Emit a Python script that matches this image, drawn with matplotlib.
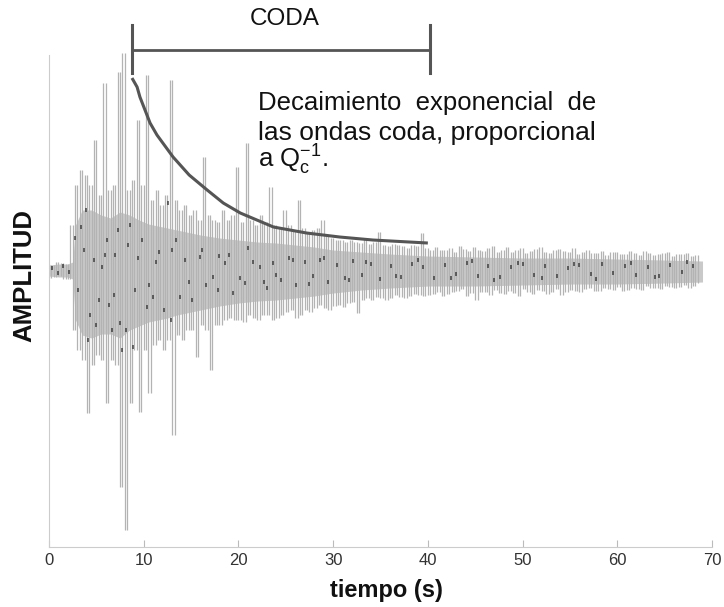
import numpy as np
import matplotlib
matplotlib.use("Agg")
import matplotlib.pyplot as plt

plt.rcParams['font.family'] = ['Liberation Sans', 'DejaVu Sans']

# seismogram peaks, 4 samples per second (0.25 s step), amplitude in plot units
trace = [
    6, -8, 5, -7,  8, -6, 7, -9,  6, -9, 45, -60,
    85, -80, 100, -90,  95, -143, 85, -95,  130, -85, 75, -90,
    187, -133, 80, -90,  85, -95, 198, -217,  217, -260, 80, -133,
    90, -80, 150, -142,  85, -80, 195, -123,  70, -75, 80, -70,
    65, -80, 75, -70,  190, -165, 70, -65,  60, -70, 65, -60,
    55, -60, 60, -87,  50, -55, 113, -60,  55, -100, 50, -55,
    48, -55, 60, -50,  50, -48, 55, -50,  103, -50, 48, -52,
    127, -45, 50, -48,  45, -50, 55, -45,  48, -45, 83, -50,
    45, -48, 42, -45,  60, -42, 45, -40,  40, -48, 70, -45,
    42, -40, 38, -42,  40, -38, 42, -35,  50, -38, 35, -40,
    32, -36, 30, -35,  30, -37, 28, -33,  30, -32, 28, -43,
    27, -30, 32, -28,  26, -30, 28, -27,  38, -28, 25, -30,
    24, -28, 26, -25,  25, -27, 24, -28,  22, -26, 25, -24,
    24, -25, 37, -26,  22, -25, 20, -24,  23, -22, 20, -26,
    20, -24, 22, -22,  18, -21, 24, -19,  21, -26, 19, -23,
    23, -30, 20, -22,  19, -22, 22, -25,  24, -20, 18, -23,
    20, -24, 23, -21,  18, -23, 20, -26,  22, -19, 17, -22,
    19, -24, 21, -20,  23, -21, 18, -24,  17, -22, 20, -19,
    21, -25, 19, -22,  18, -20, 22, -21,  16, -22, 18, -19,
    20, -18, 17, -21,  17, -21, 19, -18,  15, -19, 18, -20,
    18, -17, 16, -21,  16, -20, 19, -18,  17, -19, 15, -20,
    19, -16, 17, -18,  15, -18, 16, -19,  17, -16, 18, -17,
    14, -18, 16, -17,  16, -15, 17, -18,  14, -16, 15, -13,
]
trace_dt = 0.25

# solid core of the record (upper / lower reach)
band_t = [0, 1, 2, 2.5, 2.8, 3.5, 4.5, 5.5, 6.5, 7.5, 8.5, 9.5, 10.5, 11.5,
          12.5, 13.5, 14.5, 16, 18, 20, 22, 24, 26, 28, 30, 33, 36, 40,
          45, 50, 55, 60, 65, 69]
band_up = [5, 6, 6, 8, 45, 60, 60, 55, 52, 58, 55, 50, 46, 44,
           42, 40, 38, 35, 32, 30, 28, 27, 25, 23, 20, 18, 16, 14,
           13, 12, 12, 11, 10, 9]
band_dn = [6, 7, 7, 9, 50, 65, 68, 64, 64, 68, 60, 56, 52, 50,
           48, 45, 43, 40, 36, 33, 31, 30, 28, 26, 23, 20, 18, 16,
           16, 15, 14, 14, 13, 12]

# darker specks riding on the trace
dark_t = [0.3, 0.9, 1.5, 2.1, 2.7, 3.4, 3.7, 4.3, 4.8, 5.3,
          5.6, 6.1, 6.6, 7.0, 7.5, 7.7, 8.3, 8.9, 9.4, 10.3,
          11.0, 11.6, 12.6, 13.0, 13.8, 14.4, 15.1, 15.9, 16.6, 17.3,
          18.0, 18.6, 19.4, 20.7, 21.5, 22.3, 23.0, 23.7, 24.5, 25.3,
          26.1, 27.0, 27.9, 28.6, 29.5, 30.4, 31.2, 32.1, 33.0, 34.0,
          35.0, 36.1, 37.2, 38.3, 39.5, 40.6, 41.8, 43.0, 44.1, 45.3,
          46.4, 47.6, 48.8, 50.0, 51.2, 52.4, 53.6, 54.8, 56.0, 57.2,
          58.4, 59.6, 60.8, 62.0, 63.2, 64.4, 65.6, 66.8, 68.0,
          3.1, 3.9, 4.1, 5.0, 5.9, 6.3, 6.9, 7.3, 8.1, 8.6,
          9.1, 9.8, 10.6, 11.3, 12.1, 12.9, 13.4, 14.8, 16.2, 17.8,
          19.0, 20.2, 21.0, 22.7, 24.0, 25.8, 27.5, 29.0, 31.7, 33.5,
          36.6, 39.0, 42.4, 44.7, 47.0, 49.5, 52.0, 55.4, 57.8, 61.4,
          64.0, 67.4]
dark_a = [2, -3, 4, -2, 32, 43, 20, -45, 10, -30,
          3, 30, -60, 15, -53, -80, 25, -77, 12, -37,
          -27, 18, 67, 20, -27, 10, -30, 13, -15, -7,
          14, 7, -23, -13, 8, 3, -18, 7, -10, 12,
          -15, 8, -6, 10, -12, 5, -8, 9, -5, 6,
          -9, 4, -7, 6, 3, -8, 5, -4, 7, -6,
          4, -7, 3, 6, -5, 4, -6, 2, 5, -4,
          6, -3, 4, -5, 3, -6, 5, -2, 4,
          -20, 60, -70, -55, 15, -35, -25, 40, -60, 45,
          -20, 30, -15, 8, -40, -50, 30, -12, 20, -20,
          15, -8, 22, -12, -5, 10, -14, 12, -10, 8,
          -6, 10, -8, 9, -10, 7, -8, 6, -9, 7,
          -7, 8]

# coda envelope
curve_t = [8.76, 9.3, 9.6, 10.67, 11.4, 13.1, 14.8, 16.7, 18.4, 20.2,
           23.7, 27.2, 30.7, 34.2, 40.0]
curve_a = [192, 183, 173, 147, 135, 113, 95, 80, 67, 57,
           43, 37, 33, 30, 27]

coda_start, coda_end = 8.8, 40.2
xticks = [0, 10, 20, 30, 40, 50, 60, 70]

fig = plt.figure(figsize=(7.24, 6.07), dpi=100)
ax = fig.add_axes([0.0677, 0.0988, 0.9157, 0.8847])

# record: light filled core plus a peak-to-trough stroke per sample
ax.fill_between(band_t, [-v for v in band_dn], band_up, color='#c9c9c9', lw=0, zorder=1)
tr = np.array(trace, dtype=float)
t = np.arange(len(tr)) * trace_dt
ax.vlines(t[:-1], np.minimum(tr[:-1], tr[1:]), np.maximum(tr[:-1], tr[1:]),
          color='#b3b3b3', lw=0.9, zorder=1)
ax.plot(dark_t, dark_a, ls='none', marker='|', ms=3.5, mew=1.4,
        color='#303030', alpha=0.7, zorder=2)

# decay curve and CODA bracket
ax.plot(curve_t, curve_a, color='#555555', lw=2.2, solid_capstyle='butt', zorder=3)
ax.plot([coda_start, coda_end], [220, 220], color='#555555', lw=2.0, clip_on=False)
for xb in (coda_start, coda_end):
    ax.plot([xb, xb], [197, 245], color='#555555', lw=2.2, clip_on=False)
ax.text((coda_start + coda_end) / 2 + 0.4, 251, 'CODA', ha='center', va='center',
        fontsize=17.5, color='#111111')

ax.text(22.1, 160, 'Decaimiento  exponencial  de', fontsize=18.5, color='#111111',
        va='baseline')
ax.text(22.1, 130, 'las ondas coda, proporcional', fontsize=19, color='#111111',
        va='baseline')
ax.text(22.1, 102, r'a $\mathregular{Q_c^{-1}}$.', fontsize=18.5, color='#111111',
        va='baseline')

ax.set_xlim(0, 70)
ax.set_ylim(-277, 260)
for side in ('top', 'right'):
    ax.spines[side].set_visible(False)
ax.spines['left'].set_color('#cccccc')
ax.spines['bottom'].set_color('#cccccc')
ax.spines['left'].set_bounds(-277, 215)
ax.set_yticks([])
ax.set_xticks(xticks)
ax.tick_params(axis='x', direction='in', length=5, color='#bbbbbb', pad=4,
               labelsize=12, labelcolor='#333333')

fig.text(386 / 724, 1 - 597 / 607, 'tiempo (s)', ha='center', va='baseline',
         fontsize=17, fontweight='bold', color='#111111')
fig.text(24 / 724, 1 - 275 / 607, 'AMPLITUD', ha='center', va='center',
         rotation=90, fontsize=18.5, fontweight='bold', color='#111111')

fig.savefig('out.png', dpi=100)
